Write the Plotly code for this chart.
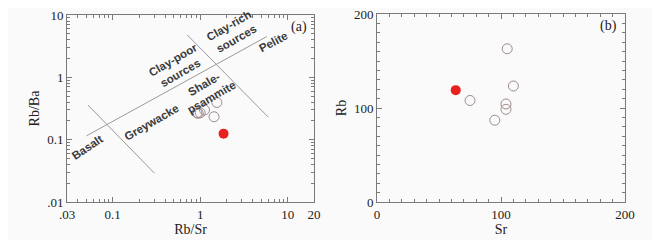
import numpy as np
import plotly.graph_objects as go

# ---- data (panel a) ----
rbsr_open = [0.92, 0.95, 1.00, 1.12, 1.44, 1.55]
rbba_open = [0.27, 0.265, 0.27, 0.30, 0.233, 0.395]
rbsr_fill = [1.85]
rbba_fill = [0.125]

# discrimination boundaries (Rb/Sr, Rb/Ba end points)
line1_x = [0.05, 5.75]
line1_y = [0.115, 4.5]
line2_x = [0.052, 0.30]
line2_y = [0.36, 0.029]
line3_x = [0.71, 6.0]
line3_y = [4.8, 0.23]

# field labels: text, Rb/Sr, Rb/Ba, angle
field_text = ["Basalt", "Greywacke", "Clay-poor<br>sources", "Shale-<br>psammite",
              "Clay-rich<br>sources", "Pelite"]
field_x = [0.052, 0.281, 0.54, 1.24, 2.31, 6.8]
field_y = [0.076, 0.192, 1.47, 0.61, 5.3, 3.7]
field_angle = [-34, -30, -30, -30, -30, -28]

# ---- data (panel b) ----
sr_open = [95, 104, 104, 105, 110, 75]
rb_open = [87, 98.6, 104.3, 163, 123.4, 108]
sr_fill = [63.5]
rb_fill = [119]

# tick labels
xa_vals = [0.03, 0.1, 1, 10, 20]
xa_text = [".03", "0.1", "1", "10", "20"]
ya_vals = [0.01, 0.1, 1, 10]
ya_text = [".01", "0.1", "1", "10"]
b_vals = [0, 100, 200]
b_text = ["0", "100", "200"]

minor_x = [m * 10.0 ** e for e in range(-2, 2) for m in range(2, 10)]
minor_x = [v for v in minor_x if 0.03 < v < 20]
minor_y = [m * 10.0 ** e for e in range(-2, 1) for m in range(2, 10)]

GREY_LINE = "#9a9a9a"
OPEN_COL = "#a08c8c"
RED = "#e8201e"
SERIF = "Liberation Serif"
SANS = "Liberation Sans"
AX = "#7a7a7a"

W, H = 652, 232  # page has an 8 px body margin


def dx(p0, p1):
    return [(p0 - 8) / W, (p1 - 8) / W]


def dy(top, bottom):
    return [1 - (bottom - 8) / H, 1 - (top - 8) / H]


fig = go.Figure()

for lx, ly in [(line1_x, line1_y), (line2_x, line2_y), (line3_x, line3_y)]:
    fig.add_trace(go.Scatter(x=lx, y=ly, mode="lines", xaxis="x", yaxis="y",
                             line=dict(color=GREY_LINE, width=1), showlegend=False,
                             hoverinfo="skip"))

fig.add_trace(go.Scatter(x=rbsr_open, y=rbba_open, mode="markers", xaxis="x", yaxis="y",
                         marker=dict(symbol="circle-open", size=10, color=OPEN_COL,
                                     line=dict(width=1)), showlegend=False))
fig.add_trace(go.Scatter(x=rbsr_fill, y=rbba_fill, mode="markers", xaxis="x", yaxis="y",
                         marker=dict(symbol="circle", size=10, color=RED), showlegend=False))

fig.add_trace(go.Scatter(x=sr_open, y=rb_open, mode="markers", xaxis="x2", yaxis="y2",
                         marker=dict(symbol="circle-open", size=10, color=OPEN_COL,
                                     line=dict(width=1)), showlegend=False))
fig.add_trace(go.Scatter(x=sr_fill, y=rb_fill, mode="markers", xaxis="x2", yaxis="y2",
                         marker=dict(symbol="circle", size=10, color=RED), showlegend=False))

annotations = []
for t, x, y, a in zip(field_text, field_x, field_y, field_angle):
    annotations.append(dict(text="<b>" + t + "</b>", x=np.log10(x), y=np.log10(y),
                            xref="x", yref="y", showarrow=False, textangle=a,
                            font=dict(family=SANS, size=11.5, color="#3a3a3a"),
                            align="center"))
annotations.append(dict(text="(a)", x=0.98, y=0.99, xref="x domain", yref="y domain",
                        xanchor="right", yanchor="top", showarrow=False,
                        font=dict(family=SERIF, size=14, color="#222")))
annotations.append(dict(text="(b)", x=0.975, y=0.99, xref="x2 domain", yref="y2 domain",
                        xanchor="right", yanchor="top", showarrow=False,
                        font=dict(family=SERIF, size=14, color="#222")))

axis_common = dict(showline=True, linecolor=AX, linewidth=1, mirror="allticks",
                   ticks="inside", ticklen=5, tickcolor=AX, showgrid=False,
                   zeroline=False, automargin=False, ticklabeloverflow="allow",
                   tickfont=dict(family=SERIF, size=13, color="#222"))

fig.update_layout(
    width=W, height=H,
    margin=dict(l=0, r=0, t=0, b=0),
    paper_bgcolor="#fafafa", plot_bgcolor="#fafafa",
    xaxis=dict(domain=dx(67, 314), type="log",
               range=[np.log10(0.03), np.log10(20)], tickmode="array",
               tickvals=xa_vals, ticktext=xa_text,
               minor=dict(tickmode="array", tickvals=minor_x, ticks="inside",
                          ticklen=3, tickcolor=AX),
               title=dict(text="Rb/Sr", font=dict(family=SERIF, size=14, color="#222"),
                          standoff=0),
               anchor="y", **axis_common),
    yaxis=dict(domain=dy(15, 202), type="log",
               range=[-2, 1], tickmode="array", tickvals=ya_vals, ticktext=ya_text,
               minor=dict(tickmode="array", tickvals=minor_y, ticks="inside",
                          ticklen=3, tickcolor=AX),
               title=dict(text="Rb/Ba", font=dict(family=SERIF, size=14, color="#222"),
                          standoff=4),
               anchor="x", **axis_common),
    xaxis2=dict(domain=dx(377, 625), range=[0, 200], tickmode="array",
                tickvals=b_vals, ticktext=b_text,
                minor=dict(dtick=10, ticks="inside", ticklen=3, tickcolor=AX),
                title=dict(text="Sr", font=dict(family=SERIF, size=14, color="#222"),
                           standoff=0),
                anchor="y2", **axis_common),
    yaxis2=dict(domain=dy(14, 202), range=[0, 200], tickmode="array",
                tickvals=b_vals, ticktext=b_text,
                minor=dict(dtick=10, ticks="inside", ticklen=3, tickcolor=AX),
                title=dict(text="Rb", font=dict(family=SERIF, size=14, color="#222"),
                           standoff=4),
                anchor="x2", **axis_common),
    annotations=annotations,
)

fig.write_html("out.html")
